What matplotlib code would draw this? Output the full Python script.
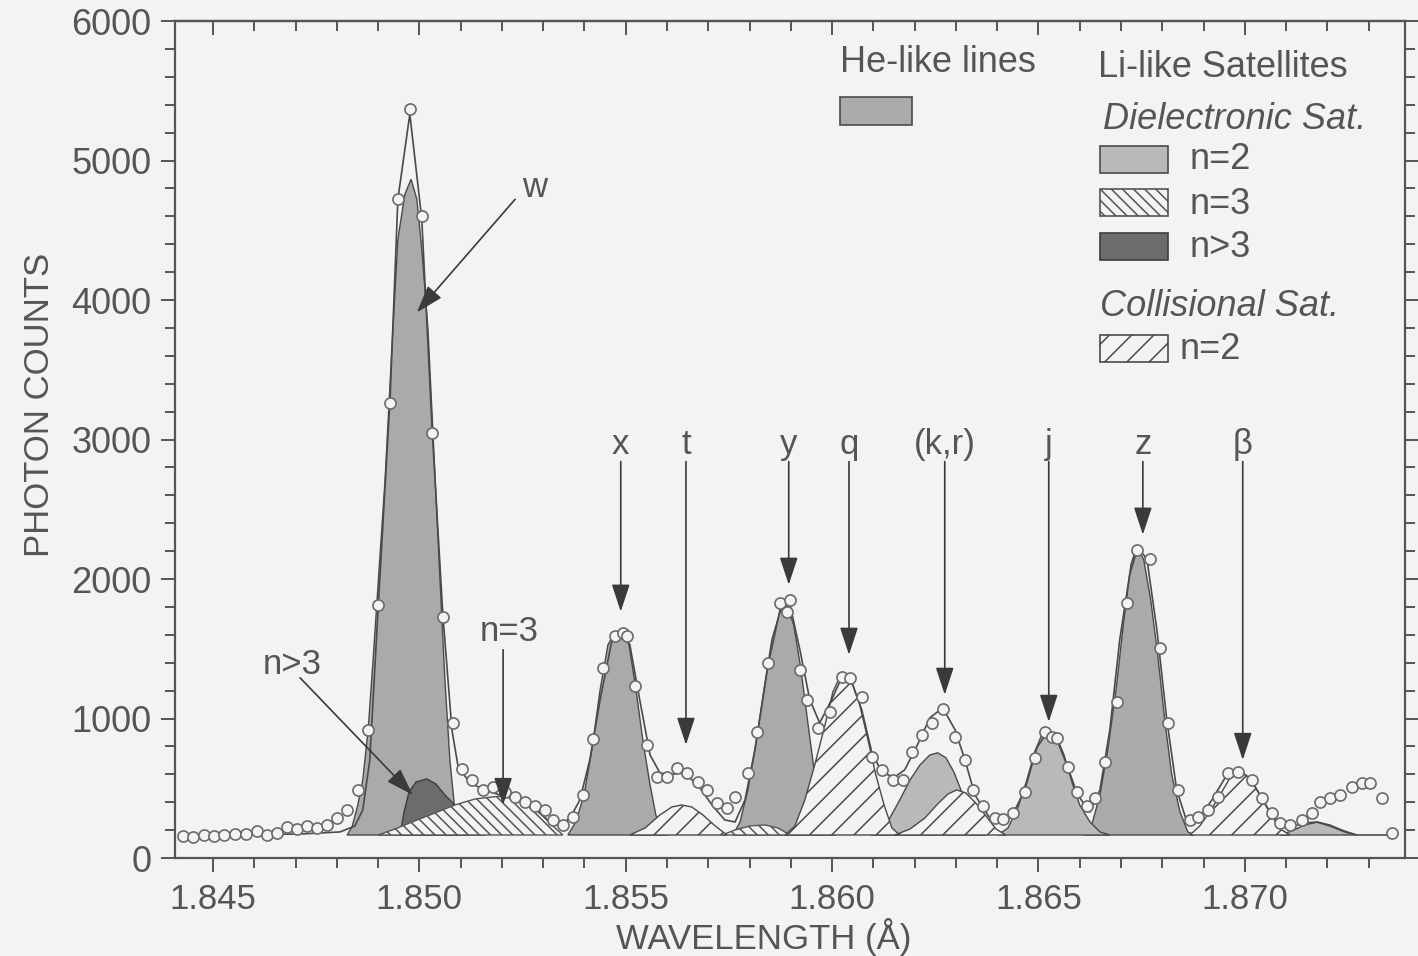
import matplotlib
matplotlib.use("Agg")
import matplotlib.pyplot as plt
from matplotlib.patches import Rectangle
from matplotlib.ticker import MultipleLocator, FixedLocator

# ---------------- data ----------------
BASELINE = 165

# measured spectrum (open circles)
DATA_WL = [1.84427, 1.84452, 1.84478, 1.84502, 1.84527, 1.84553, 1.84580, 1.84607, 1.84631, 1.84655,
           1.84679, 1.84704, 1.84728, 1.84752, 1.84776, 1.84800, 1.84825, 1.84851, 1.84876, 1.84900,
           1.84929, 1.84948, 1.84977, 1.85006, 1.85031, 1.85057, 1.85081, 1.85103, 1.85127, 1.85154,
           1.85178, 1.85207, 1.85232, 1.85256, 1.85280, 1.85304, 1.85324, 1.85348, 1.85372, 1.85396,
           1.85421, 1.85445, 1.85474, 1.85493, 1.85503, 1.85522, 1.85551, 1.85576, 1.85600, 1.85624,
           1.85648, 1.85675, 1.85697, 1.85721, 1.85745, 1.85765, 1.85796, 1.85818, 1.85845, 1.85874,
           1.85891, 1.85898, 1.85922, 1.85939, 1.85966, 1.85995, 1.86024, 1.86043, 1.86072, 1.86096,
           1.86121, 1.86147, 1.86172, 1.86193, 1.86218, 1.86242, 1.86268, 1.86298, 1.86322, 1.86341,
           1.86365, 1.86394, 1.86414, 1.86438, 1.86467, 1.86491, 1.86516, 1.86533, 1.86545, 1.86571,
           1.86593, 1.86617, 1.86637, 1.86661, 1.86690, 1.86714, 1.86738, 1.86770, 1.86794, 1.86814,
           1.86838, 1.86867, 1.86886, 1.86910, 1.86935, 1.86959, 1.86983, 1.87017, 1.87041, 1.87065,
           1.87085, 1.87109, 1.87138, 1.87162, 1.87182, 1.87206, 1.87230, 1.87259, 1.87283, 1.87303,
           1.87332, 1.87356]
DATA_COUNTS = [155, 150, 165, 160, 165, 170, 175, 195, 165, 180,
               225, 210, 230, 215, 240, 290, 345, 490, 920, 1815,
               3265, 4725, 5370, 4605, 3050, 1730, 970, 635, 560, 490,
               510, 470, 440, 405, 370, 345, 275, 240, 295, 455,
               850, 1365, 1595, 1610, 1595, 1235, 810, 580, 580, 645,
               610, 545, 490, 395, 360, 440, 610, 905, 1400, 1830,
               1765, 1850, 1350, 1135, 935, 1050, 1300, 1290, 1155, 725,
               630, 560, 560, 760, 885, 970, 1065, 870, 705, 490,
               370, 290, 280, 325, 470, 720, 900, 870, 860, 655,
               470, 370, 430, 685, 1120, 1830, 2210, 2140, 1505, 970,
               490, 275, 295, 345, 440, 610, 620, 560, 430, 325,
               250, 240, 275, 325, 405, 430, 455, 510, 540, 540,
               430, 180]

# total fit (thin line)
FIT_WL = [1.84427, 1.84711, 1.84808, 1.84844, 1.84863, 1.84880, 1.84900, 1.84929, 1.84948, 1.84977,
          1.85006, 1.85031, 1.85057, 1.85079, 1.85094, 1.85123, 1.85159, 1.85195, 1.85220, 1.85244,
          1.85280, 1.85316, 1.85341, 1.85365, 1.85389, 1.85413, 1.85438, 1.85467, 1.85491, 1.85510,
          1.85534, 1.85559, 1.85583, 1.85607, 1.85631, 1.85656, 1.85680, 1.85709, 1.85740, 1.85765,
          1.85789, 1.85813, 1.85845, 1.85874, 1.85898, 1.85922, 1.85946, 1.85970, 1.85999, 1.86026,
          1.86050, 1.86072, 1.86096, 1.86121, 1.86152, 1.86176, 1.86201, 1.86237, 1.86268, 1.86298,
          1.86322, 1.86346, 1.86382, 1.86414, 1.86443, 1.86467, 1.86496, 1.86520, 1.86545, 1.86569,
          1.86595, 1.86625, 1.86649, 1.86673, 1.86697, 1.86721, 1.86741, 1.86763, 1.86787, 1.86811,
          1.86835, 1.86862, 1.86891, 1.86920, 1.86952, 1.86983, 1.87012, 1.87041, 1.87065, 1.87090,
          1.87121, 1.87145, 1.87174, 1.87206, 1.87242, 1.87271, 1.87359]
FIT_COUNTS = [165, 172, 187, 230, 345, 703, 1780, 3287, 4722, 5333,
              4579, 3072, 1744, 919, 653, 538, 488, 452, 445, 416,
              359, 258, 230, 287, 416, 703, 1134, 1565, 1622, 1529,
              1134, 739, 610, 596, 610, 574, 502, 380, 273, 258,
              416, 775, 1385, 1780, 1816, 1493, 1134, 969, 1134, 1313,
              1242, 1062, 761, 610, 581, 632, 775, 1005, 1077, 919,
              703, 452, 287, 273, 344, 488, 790, 897, 847, 667,
              452, 330, 488, 919, 1565, 2031, 2232, 2139, 1636, 990,
              488, 237, 287, 416, 574, 632, 574, 431, 309, 230,
              230, 251, 258, 230, 187, 165, 165]

# He-like lines (w, x, y, z)
HE_W_WL = [1.84825, 1.84837, 1.84851, 1.84863, 1.84876, 1.84888, 1.84900, 1.84917, 1.84934, 1.84948, 1.84965,
           1.84980, 1.84994, 1.85006, 1.85021, 1.85035, 1.85050, 1.85062, 1.85074, 1.85086, 1.85098, 1.85113]
HE_W_CT = [165, 223, 380, 560, 919, 1421, 1959, 2713, 3682, 4435, 4758,
           4866, 4722, 4364, 3789, 2928, 1995, 1278, 703, 344, 201, 165]
HE_X_WL = [1.85360, 1.85379, 1.85399, 1.85418, 1.85438, 1.85457, 1.85474, 1.85491, 1.85508, 1.85525,
           1.85542, 1.85559, 1.85573, 1.85588, 1.85602]
HE_X_CT = [165, 258, 452, 775, 1206, 1529, 1615, 1629, 1529, 1206, 833, 524, 309, 187, 165]
HE_Y_WL = [1.85760, 1.85777, 1.85796, 1.85815, 1.85835, 1.85854, 1.85874, 1.85891, 1.85907, 1.85924,
           1.85941, 1.85958, 1.85975, 1.85992, 1.86009]
HE_Y_CT = [165, 258, 488, 811, 1206, 1565, 1766, 1809, 1672, 1364, 976, 596, 330, 201, 165]
HE_Z_WL = [1.86612, 1.86629, 1.86649, 1.86668, 1.86688, 1.86707, 1.86724, 1.86738, 1.86755, 1.86772,
           1.86789, 1.86806, 1.86823, 1.86843, 1.86862, 1.86879]
HE_Z_CT = [165, 237, 452, 775, 1206, 1708, 2103, 2232, 2139, 1852, 1457, 990, 596, 330, 187, 165]

# Li-like dielectronic satellites, n=2 (j, k, small line at 1.872)
DI2_J_WL = [1.86402, 1.86426, 1.86450, 1.86472, 1.86491, 1.86508, 1.86525, 1.86542, 1.86562, 1.86581,
            1.86600, 1.86625, 1.86649, 1.86673]
DI2_J_CT = [165, 215, 359, 560, 761, 883, 919, 883, 739, 545, 380, 258, 187, 165]
DI2_K_WL = [1.86092, 1.86116, 1.86140, 1.86164, 1.86189, 1.86213, 1.86237, 1.86256, 1.86276, 1.86295,
            1.86314, 1.86334, 1.86353, 1.86373]
DI2_K_CT = [165, 201, 287, 416, 560, 667, 739, 754, 718, 617, 474, 330, 215, 165]
DI2_S_WL = [1.87085, 1.87114, 1.87145, 1.87177, 1.87206, 1.87235, 1.87271]
DI2_S_CT = [165, 194, 237, 258, 237, 201, 165]

# dielectronic n=3
DI3_A_WL = [1.84900, 1.84941, 1.84989, 1.85038, 1.85086, 1.85135, 1.85178, 1.85207, 1.85232, 1.85256,
            1.85280, 1.85304, 1.85329, 1.85348]
DI3_A_CT = [165, 208, 266, 323, 380, 423, 438, 445, 431, 402, 352, 287, 215, 165]
DI3_B_WL = [1.85733, 1.85765, 1.85801, 1.85837, 1.85869, 1.85898]
DI3_B_CT = [165, 201, 230, 237, 215, 165]

# dielectronic n>3
DIN_WL = [1.84953, 1.84963, 1.84975, 1.84992, 1.85018, 1.85040, 1.85062, 1.85081, 1.85103, 1.85127, 1.85159]
DIN_CT = [165, 330, 473, 545, 567, 531, 452, 395, 330, 258, 165]

# collisional n=2 (t, q, r, beta)
CO_T_WL = [1.85510, 1.85547, 1.85583, 1.85612, 1.85636, 1.85660, 1.85687, 1.85714, 1.85745]
CO_T_CT = [165, 215, 309, 366, 380, 366, 309, 237, 165]
CO_Q_WL = [1.85886, 1.85910, 1.85934, 1.85958, 1.85983, 1.86002, 1.86019, 1.86033, 1.86050, 1.86067,
           1.86087, 1.86106, 1.86126, 1.86145, 1.86164]
CO_Q_CT = [165, 230, 416, 667, 955, 1191, 1299, 1306, 1242, 1098, 847, 596, 380, 215, 165]
CO_R_WL = [1.86152, 1.86189, 1.86225, 1.86256, 1.86281, 1.86302, 1.86324, 1.86348, 1.86373, 1.86397, 1.86421]
CO_R_CT = [165, 208, 287, 388, 459, 488, 466, 395, 301, 208, 165]
CO_B_WL = [1.86867, 1.86891, 1.86915, 1.86940, 1.86964, 1.86983, 1.87002, 1.87024, 1.87046, 1.87068,
           1.87090, 1.87109]
CO_B_CT = [165, 230, 330, 452, 574, 617, 596, 517, 402, 287, 201, 165]

# line labels with vertical arrows
LINE_LABELS = ["x", "t", "y", "q", "(k,r)", "j", "z", "β"]
LINE_WL = [1.85488, 1.85646, 1.85895, 1.86041, 1.86273, 1.86525, 1.86753, 1.86995]
LINE_TIP = [1766, 811, 1959, 1457, 1170, 976, 2318, 703]
LABEL_Y = 2964
ARROW_TOP = 2842

X_TICKS = [1.845, 1.850, 1.855, 1.860, 1.865, 1.870]
X_TICK_LABELS = ["1.845", "1.850", "1.855", "1.860", "1.865", "1.870"]
Y_TICKS = [0, 1000, 2000, 3000, 4000, 5000, 6000]

# ---------------- style ----------------
BG = "#f3f3f3"
INK = "#555555"
LINE = "#4a4a4a"
HE_COL = "#aaaaaa"
DI2_COL = "#b9b9b9"
DIN_COL = "#6c6c6c"

plt.rcParams['font.family'] = ['Liberation Sans', 'DejaVu Sans']
plt.rcParams['hatch.linewidth'] = 0.55

fig = plt.figure(figsize=(7.09, 4.78), dpi=200, facecolor=BG)
ax = fig.add_axes([0.1234, 0.1025, 0.8674, 0.8755], facecolor=BG)
ax.set_xlim(1.84408, 1.87388)
ax.set_ylim(0, 6000)

# He-like lines
for wl, ct in [(HE_W_WL, HE_W_CT), (HE_X_WL, HE_X_CT), (HE_Y_WL, HE_Y_CT), (HE_Z_WL, HE_Z_CT)]:
    ax.fill(wl, ct, facecolor=HE_COL, edgecolor=LINE, lw=0.5, zorder=2)
# dielectronic n=2
for wl, ct in [(DI2_J_WL, DI2_J_CT), (DI2_K_WL, DI2_K_CT), (DI2_S_WL, DI2_S_CT)]:
    ax.fill(wl, ct, facecolor=DI2_COL, edgecolor=LINE, lw=0.5, zorder=2)
# dielectronic n>3
ax.fill(DIN_WL, DIN_CT, facecolor=DIN_COL, edgecolor="#3c3c3c", lw=0.5, zorder=3)
# dielectronic n=3
for wl, ct in [(DI3_A_WL, DI3_A_CT), (DI3_B_WL, DI3_B_CT)]:
    ax.fill(wl, ct, facecolor=BG, edgecolor="#555555", hatch='\\\\\\\\\\\\', lw=0.5, zorder=3.5)
# collisional n=2
for wl, ct in [(CO_T_WL, CO_T_CT), (CO_Q_WL, CO_Q_CT), (CO_R_WL, CO_R_CT), (CO_B_WL, CO_B_CT)]:
    ax.fill(wl, ct, facecolor=BG, edgecolor="#4a4a4a", hatch='///', lw=0.5, zorder=3.5)

# total fit and data
ax.plot(FIT_WL, FIT_COUNTS, color=LINE, lw=0.6, zorder=4)
ax.plot(DATA_WL, DATA_COUNTS, 'o', ms=4.0, mfc=BG, mec="#6a6a6a", mew=0.6, zorder=5, linestyle='none')

# line identification arrows
arrow = dict(arrowstyle='-|>,head_length=0.85,head_width=0.28', color="#3a3a3a", lw=0.6,
             shrinkA=0, shrinkB=0)
for lab, wl, tip in zip(LINE_LABELS, LINE_WL, LINE_TIP):
    ax.annotate('', xy=(wl, tip), xytext=(wl, ARROW_TOP), arrowprops=arrow, zorder=6)
    ax.text(wl, LABEL_Y, lab, ha='center', va='center', fontsize=12.5, color=INK, zorder=6)

ax.annotate('', xy=(1.84994, 3911), xytext=(1.85232, 4722), arrowprops=arrow, zorder=6)
ax.text(1.85280, 4809, "w", ha='center', va='center', fontsize=12.5, color=INK)
ax.annotate('', xy=(1.84984, 452), xytext=(1.84711, 1292), arrowprops=arrow, zorder=6)
ax.text(1.84691, 1385, "n>3", ha='center', va='center', fontsize=12.5, color=INK)
ax.annotate('', xy=(1.85203, 380), xytext=(1.85203, 1493), arrowprops=arrow, zorder=6)
ax.text(1.85219, 1622, "n=3", ha='center', va='center', fontsize=12.5, color=INK)

# ---------------- legend (manual) ----------------
T = ax.transAxes
ax.text(0.5407, 0.951, "He-like lines", transform=T, fontsize=13, color=INK, va='center')
ax.add_patch(Rectangle((0.5407, 0.876), 0.0585, 0.0335, transform=T, facecolor=HE_COL,
                       edgecolor=LINE, lw=0.6, zorder=6))
ax.text(0.7504, 0.944, "Li-like Satellites", transform=T, fontsize=13, color=INK, va='center')
ax.text(0.7545, 0.882, "Dielectronic Sat.", transform=T, fontsize=13, color=INK, va='center',
        style='italic')
sw_x, sw_w, sw_h = 0.752, 0.0553, 0.0323
ax.add_patch(Rectangle((sw_x, 0.818), sw_w, sw_h, transform=T, facecolor=DI2_COL,
                       edgecolor=LINE, lw=0.6, zorder=6))
ax.text(0.8252, 0.834, "n=2", transform=T, fontsize=13, color=INK, va='center')
ax.add_patch(Rectangle((sw_x, 0.767), sw_w, sw_h, transform=T, facecolor=BG, hatch='\\\\\\\\\\\\',
                       edgecolor="#555555", lw=0.6, zorder=6))
ax.text(0.8252, 0.781, "n=3", transform=T, fontsize=13, color=INK, va='center')
ax.add_patch(Rectangle((sw_x, 0.7145), sw_w, sw_h, transform=T, facecolor=DIN_COL,
                       edgecolor="#3c3c3c", lw=0.6, zorder=6))
ax.text(0.8252, 0.730, "n>3", transform=T, fontsize=13, color=INK, va='center')
ax.text(0.752, 0.6595, "Collisional Sat.", transform=T, fontsize=13, color=INK, va='center',
        style='italic')
ax.add_patch(Rectangle((sw_x, 0.5926), sw_w, sw_h, transform=T, facecolor=BG, hatch='///',
                       edgecolor="#4a4a4a", lw=0.6, zorder=6))
ax.text(0.817, 0.608, "n=2", transform=T, fontsize=13, color=INK, va='center')

# ---------------- axes ----------------
for s in ax.spines.values():
    s.set_color("#555555")
    s.set_linewidth(0.8)
ax.xaxis.set_major_locator(FixedLocator(X_TICKS))
ax.set_xticklabels(X_TICK_LABELS)
ax.xaxis.set_minor_locator(MultipleLocator(0.001))
ax.yaxis.set_major_locator(FixedLocator(Y_TICKS))
ax.yaxis.set_minor_locator(MultipleLocator(200))
ax.tick_params(axis='both', which='both', direction='out', colors="#555555", labelcolor=INK,
               labelsize=13, width=0.7)
ax.tick_params(axis='x', labelsize=12.5, pad=4)
ax.tick_params(axis='both', which='major', length=5)
ax.tick_params(axis='both', which='minor', length=3.5)
ax.tick_params(axis='y', which='both', right=True)

top = ax.secondary_xaxis('top')
top.xaxis.set_major_locator(FixedLocator(X_TICKS))
top.xaxis.set_minor_locator(MultipleLocator(0.001))
top.tick_params(axis='x', which='both', direction='in', labeltop=False, colors="#555555", width=0.7)
top.tick_params(axis='x', which='major', length=5)
top.tick_params(axis='x', which='minor', length=3.5)
top.spines['top'].set_color("#555555")

ax.set_xlabel("WAVELENGTH (Å)", fontsize=12.5, color=INK)
ax.xaxis.set_label_coords(0.479, -0.072)
ax.set_ylabel("PHOTON COUNTS", fontsize=12.5, color=INK)
ax.yaxis.set_label_coords(-0.097, 0.541)

fig.savefig("out.png", dpi=200, facecolor=BG)
